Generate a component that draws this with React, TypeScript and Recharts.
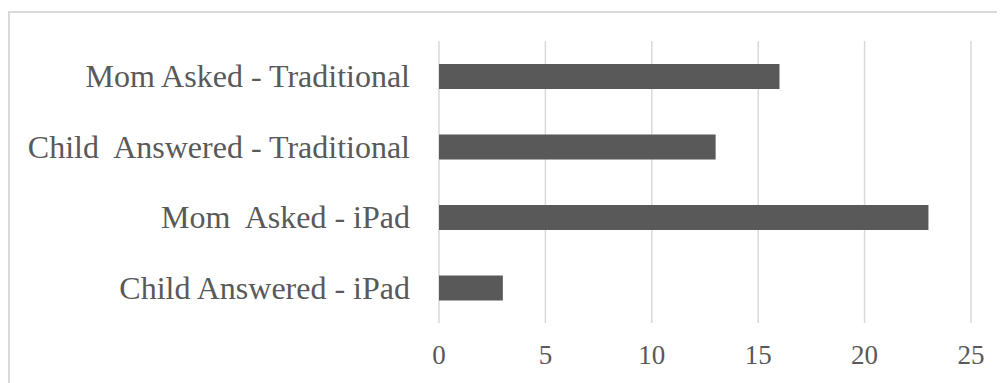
import React from 'react';
import { BarChart, Bar, XAxis, YAxis, CartesianGrid } from 'recharts';

const categories = [
  'Mom Asked - Traditional',
  'Child  Answered - Traditional',
  'Mom  Asked - iPad',
  'Child Answered - iPad',
];
const counts = [16, 13, 23, 3];
const xTicks = [0, 5, 10, 15, 20, 25];

const data = categories.map((name, i) => ({ name, value: counts[i] }));

const FONT = '"Liberation Serif", "Times New Roman", serif';
const TEXT = '#595959';

// keep the double spaces that are in some labels
const CategoryTick = (props: any) => {
  const { x, y, payload } = props;
  return (
    <text
      x={x}
      y={y}
      textAnchor="end"
      dominantBaseline="central"
      fill={TEXT}
      fontSize={32}
      fontFamily={FONT}
      style={{ whiteSpace: 'pre' }}
    >
      {payload.value}
    </text>
  );
};

export default function App() {
  return (
    <div
      style={{
        marginTop: 3,
        width: 1000,
        height: 375,
        border: '2px solid #d9d9d9',
        boxSizing: 'border-box',
      }}
    >
      <BarChart
        width={996}
        height={371}
        data={data}
        layout="vertical"
        margin={{ top: 28, right: 35, bottom: 10, left: 0 }}
      >
        <CartesianGrid horizontal={false} stroke="#d9d9d9" strokeWidth={1.5} />
        <XAxis
          type="number"
          domain={[0, 25]}
          ticks={xTicks}
          axisLine={false}
          tickLine={false}
          tickSize={6}
          tickMargin={16}
          height={51}
          tick={{ fill: TEXT, fontSize: 27, fontFamily: FONT }}
        />
        <YAxis
          type="category"
          dataKey="name"
          width={429}
          axisLine={false}
          tickLine={false}
          tickSize={6}
          tickMargin={23}
          tick={<CategoryTick />}
        />
        <Bar dataKey="value" fill="#595959" barSize={25} isAnimationActive={false} />
      </BarChart>
    </div>
  );
}
